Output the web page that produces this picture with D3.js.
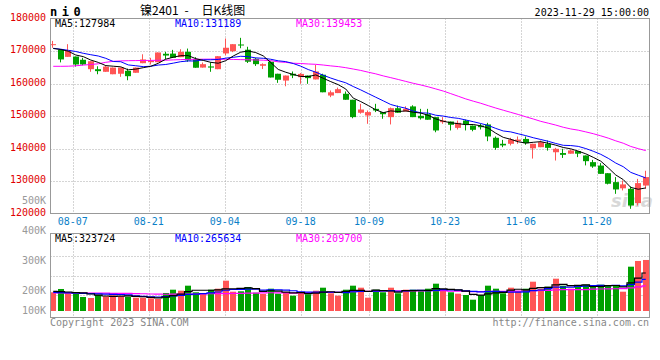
<!DOCTYPE html>
<html><head><meta charset="utf-8">
<script src="https://cdn.jsdelivr.net/npm/d3@7/dist/d3.min.js"></script>
<style>
html,body{margin:0;padding:0;background:#fff;}
svg{display:block;}
text{font-family:"DejaVu Sans Mono",monospace;font-size:10px;}
</style></head><body>
<svg id="c" width="660" height="360"></svg>
<script>
// ---------------- data ----------------
const symbol = "ni0";
const titleParts = ["镍2401", "-", "日K线图"];   // 镍2401 - 日K线图
const stamp = "2023-11-29 15:00:00";
const dates = ["08-02","08-03","08-04","08-07","08-08","08-09","08-10","08-11","08-14","08-15","08-16","08-17","08-18","08-21","08-22","08-23","08-24","08-25","08-28","08-29","08-30","08-31",
"09-01","09-04","09-05","09-06","09-07","09-08","09-11","09-12","09-13","09-14","09-15","09-18","09-19","09-20","09-21","09-22","09-25","09-26","09-27","09-28",
"10-09","10-10","10-11","10-12","10-13","10-16","10-17","10-18","10-19","10-20","10-23","10-24","10-25","10-26","10-27","10-30","10-31",
"11-01","11-02","11-03","11-06","11-07","11-08","11-09","11-10","11-13","11-14","11-15","11-16","11-17","11-20","11-21","11-22","11-23","11-24","11-27","11-28","11-29"];
const open = [171900,170350,168200,168300,167300,164400,164400,163600,162850,163000,
163900,163300,166250,166550,166550,169150,169200,168100,169750,167500,
164900,165250,164400,169250,169950,172000,170400,167600,165450,166700,
163000,160900,163000,161950,162450,161250,162700,156300,157050,156850,
155000,151000,150150,152200,151200,149650,152400,151400,152950,150050,
150550,149650,148100,148300,146350,148600,147050,147050,147400,143300,
141450,141450,142250,142950,140050,140400,141450,138850,138600,138400,
139200,137850,135800,134750,132400,129650,127750,127600,123200,128600];
const high = [173100,170500,172100,168300,167900,166850,165300,165600,164900,164900,
164600,164900,169000,167900,169550,169750,170350,170550,170750,168100,
166450,166550,168400,173850,172100,174050,171300,167900,166200,166800,
163000,162450,163700,163200,162450,165750,163000,157850,158750,157550,
155000,153750,151700,153750,151200,152600,153200,153000,153300,152200,
152200,149650,149650,148300,148600,148900,147050,147600,147900,143700,
142650,143300,143700,143700,141450,142450,142450,140200,139900,139700,
139200,137850,136500,135500,132400,131200,130150,128300,130650,133150];
const low = [171000,166500,168200,165200,165600,163600,162850,163600,162850,162050,
161000,163300,166250,165850,166550,167500,167900,168100,166700,164850,
164900,163600,164400,168700,169650,170850,166300,165400,164450,161850,
160200,159150,161650,159900,159900,161250,157300,155800,157050,155000,
149300,150700,147600,151200,149150,147400,151000,151400,149650,148900,
148850,145000,147600,145550,145850,145550,145300,145850,142250,139600,
140400,140950,141450,141150,136900,140400,139350,136300,137100,138400,
137350,134800,134050,132200,128950,126050,127100,121450,122450,127600];
const close = [172100,167400,170150,165850,165850,166850,163800,165200,164900,164900,
162250,164900,167400,167000,169550,168600,167900,169750,167100,164850,
165950,164900,168400,171000,172100,171800,166700,165950,165950,161850,
161150,162450,162450,162950,161650,163700,157300,157300,158250,155000,
149650,152000,151200,151700,150550,152400,151000,152200,149650,149300,
148850,145550,148600,147300,147900,147400,145750,146550,143700,140200,
140950,142750,142750,141650,141450,141950,140200,139900,138050,139400,
138400,136100,134450,132200,129150,127400,128950,122450,129350,131200];
const volume = [157500,185300,157500,145700,117900,109500,134700,123800,132200,123800,
120400,112000,112000,106900,101100,151600,179400,170900,213100,157500,
151600,179400,187800,255200,162500,165900,202100,154100,143200,187800,
145700,160000,128800,154100,140600,170900,196200,149100,128800,179400,
213100,196200,112000,179400,157500,196200,149100,179400,179400,168400,
187800,229900,168400,157500,145700,134700,95200,134700,213100,187800,
149100,196200,168400,187800,246700,187800,204600,272000,213100,187800,
204600,221500,204600,221500,213100,213100,162500,373000,421100,429500];
// moving-average values at the start of the window (prior days not shown)
const ma5Head = [170770,170460,169940,168770];
const ma10Head = [170830,170550,170220,169850,169290,168860,168460,167750,166770];
const ma30Head = [165290,165290,165320,165450,165660,165850,166060,166520,166830,166950,
167020,167050,167080,167110,167140,167170,167260,167350,167420,167450,
167480,167500,167480,167450,167400,167350,167300,167250,167170];
const vma5Head = [165000,163000,160000,155000];
const vma10Head = [156000,154000,152000,150000,148000,146000,144000,142000,140000];
const vma30Head = [153000,153000,152000,152000,151000,151000,150000,150000,149000,149000,
148000,147000,145000,143000,142000,141000,142000,142000,143000,143000,
144000,145000,146000,147000,148000,149000,150000,151000,152000];
const maNames = ["MA5","MA10","MA30"];
const priceMALabels = [127984,131189,139453];
const volMALabels = [323724,265634,209700];
const priceTicks = [180000,170000,160000,150000,140000,130000,120000];
const volTicks = [500000,400000,300000,200000,100000];
const volTickLabels = ["500K","400K","300K","200K","100K"];
const dateTicks = ["08-07","08-21","09-04","09-18","10-09","10-23","11-06","11-20"];
const copyright = "Copyright 2023 SINA.COM";
const site = "http://finance.sina.com.cn";

// ---------------- chart ----------------
const svg = d3.select("#c");
const RED = "#ff5555", GREEN = "#00a000", GRID = "#aaa", AXIS = "#999";
const maColors = ["#000","#0000ff","#ff00ff"];
const n = dates.length;
const x = d3.scaleBand().domain(dates).range([49.5, 649.5]);
const cx = d => x(d) + x.bandwidth() / 2;
const gx = d3.scaleLinear().domain([0, n - 1]).range([50, 650]);
const y = d3.scaleLinear().domain([120000, 180000]).range([213.5, 18.5]);
const yv = d3.scaleLinear().domain([0, 500000]).range([311, 251.6]);
const vLab = d3.scaleLinear().domain([0, 500000]).range([354, 204]);
const vGrid = d3.scaleLinear().domain([0, 4]).range([314.5, 236.5]);
const snap = v => Math.round(v) + 0.5;

function movingAvg(arr, k, head) {
  return arr.map((_, i) => i < k - 1 ? head[i] : d3.mean(arr.slice(i - k + 1, i + 1)));
}
const priceMA = [movingAvg(close,5,ma5Head), movingAvg(close,10,ma10Head), movingAvg(close,30,ma30Head)];
const volMA = [movingAvg(volume,5,vma5Head), movingAvg(volume,10,vma10Head), movingAvg(volume,30,vma30Head)];

const MT = y(180000), MB = y(120000), VT = 233.5, VB = 317.5, L = 50.5, R = 649.5;

// grid
const g = svg.append("g");
g.selectAll(".hg").data(priceTicks.slice(1, -1)).join("line")
  .attr("x1", L).attr("x2", R).attr("y1", d => snap(y(d))).attr("y2", d => snap(y(d)))
  .attr("stroke", GRID).attr("stroke-dasharray", "1,2");
g.selectAll(".vg").data([1,2,3]).join("line")
  .attr("x1", L).attr("x2", R).attr("y1", d => snap(vGrid(d))).attr("y2", d => snap(vGrid(d)))
  .attr("stroke", GRID).attr("stroke-dasharray", "1,2");
const tickIdx = dateTicks.map(d => dates.indexOf(d));
g.selectAll(".xg").data(tickIdx).join("line")
  .attr("x1", d => snap(gx(d))).attr("x2", d => snap(gx(d)))
  .attr("y1", MT).attr("y2", MB).attr("stroke", GRID).attr("stroke-dasharray", "1,2");
g.selectAll(".xg2").data(tickIdx).join("line")
  .attr("x1", d => snap(gx(d))).attr("x2", d => snap(gx(d)))
  .attr("y1", VT).attr("y2", VB).attr("stroke", GRID).attr("stroke-dasharray", "1,2");

// watermark
svg.append("text").attr("x", 611).attr("y", 207).text("sina")
  .style("font-family", "DejaVu Sans").style("font-size", "18px").style("font-weight", "bold")
  .style("font-style", "italic").attr("fill", "#cccccc").attr("opacity", 0.75);

// candles
const cd = svg.append("g");
const idx = d3.range(n);
const col = i => close[i] >= open[i] ? RED : GREEN;
cd.selectAll(".wick").data(idx).join("line")
  .attr("x1", i => Math.round(cx(dates[i]) - 3) + 2.5).attr("x2", i => Math.round(cx(dates[i]) - 3) + 2.5)
  .attr("y1", i => y(high[i])).attr("y2", i => y(low[i])).attr("stroke", col);
cd.selectAll(".body").data(idx).join("rect")
  .attr("x", i => Math.round(cx(dates[i]) - 3)).attr("width", 6)
  .attr("y", i => y(Math.max(open[i], close[i])))
  .attr("height", i => Math.max(1, y(Math.min(open[i], close[i])) - y(Math.max(open[i], close[i]))))
  .attr("fill", col);

// volume bars
svg.append("g").selectAll("rect").data(idx).join("rect")
  .attr("x", i => Math.round(cx(dates[i]) - 3)).attr("width", 6)
  .attr("y", i => yv(volume[i])).attr("height", i => yv(0) - yv(volume[i]))
  .attr("fill", col);

// MA lines
const lineP = d3.line().x((v, i) => cx(dates[i])).y(v => y(v));
const lineV = d3.line().x((v, i) => cx(dates[i])).y(v => yv(v)).curve(d3.curveStep);
[2,1,0].forEach(k => {
  svg.append("path").attr("d", lineP(priceMA[k])).attr("fill", "none").attr("stroke", maColors[k]).attr("stroke-width", 1);
  svg.append("path").attr("d", lineV(volMA[k])).attr("fill", "none").attr("stroke", maColors[k]).attr("stroke-width", 1.2);
});

// frames
svg.append("rect").attr("x", L).attr("y", MT).attr("width", R - L).attr("height", MB - MT)
  .attr("fill", "none").attr("stroke", AXIS);
svg.append("rect").attr("x", L).attr("y", VT).attr("width", R - L).attr("height", VB - VT)
  .attr("fill", "none").attr("stroke", AXIS);

// axis labels
svg.selectAll(".pl").data(priceTicks).join("text")
  .attr("x", 46).attr("y", d => y(d) + 2).attr("text-anchor", "end").attr("fill", "#e00000").text(d => d);
svg.selectAll(".vl").data(volTicks).join("text")
  .attr("x", 46).attr("y", d => Math.min(vLab(d), 313.5)).attr("text-anchor", "end").attr("fill", "#999")
  .text((d, i) => volTickLabels[i]);
svg.selectAll(".dl").data(tickIdx).join("text")
  .attr("x", d => gx(d)).attr("y", 225).attr("text-anchor", "middle").attr("fill", "#0a7fc8")
  .text(d => dates[d]);

// legends
const legX = [55, 175, 296];
maNames.forEach((nm, k) => {
  svg.append("text").attr("x", legX[k]).attr("y", 27).attr("fill", maColors[k]).text(nm + ":" + priceMALabels[k]);
  svg.append("text").attr("x", legX[k]).attr("y", 241.5).attr("fill", maColors[k]).text(nm + ":" + volMALabels[k]);
});

// header
svg.append("text").attr("x", 50).attr("y", 15.5).text(symbol)
  .style("font-size", "12px").style("font-weight", "bold").style("letter-spacing", "4.5px");
const tt = svg.append("text").attr("y", 15)
  .style("font-family", "'Noto Sans CJK SC'").style("font-size", "12px");
const titleX = [140, 184.5, 201.5];
titleParts.forEach((p, i) => tt.append("tspan").attr("x", titleX[i]).text(p));
svg.append("text").attr("x", 649).attr("y", 15.5).attr("text-anchor", "end").text(stamp);

// footer
svg.append("text").attr("x", 50).attr("y", 326).attr("fill", "#888").text(copyright);
svg.append("text").attr("x", 649).attr("y", 326).attr("text-anchor", "end").attr("fill", "#888").text(site);
</script>
</body></html>
